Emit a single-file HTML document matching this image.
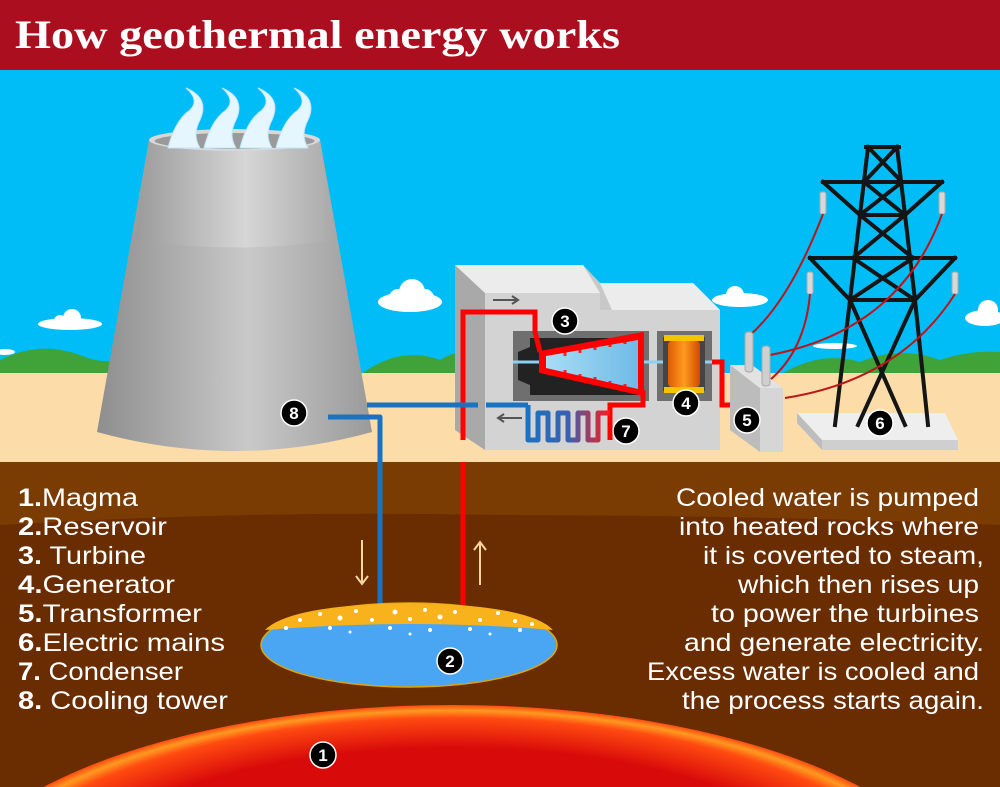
<!DOCTYPE html>
<html><head><meta charset="utf-8"><style>
html,body{margin:0;padding:0;background:#fff;overflow:hidden;width:1000px;height:787px}
svg{display:block}
</style></head><body>
<svg width="1000" height="787" viewBox="0 0 1000 787" xmlns="http://www.w3.org/2000/svg" style="font-family:'Liberation Sans',sans-serif">
<defs>
<linearGradient id="tw" x1="0" x2="1"><stop offset="0" stop-color="#8e8e8e"/><stop offset="0.55" stop-color="#c9c9c9"/><stop offset="1" stop-color="#9a9a9a"/></linearGradient>
<linearGradient id="tw2" x1="0" x2="1"><stop offset="0" stop-color="#9a9a9a"/><stop offset="0.55" stop-color="#d6d6d6"/><stop offset="1" stop-color="#a8a8a8"/></linearGradient>
<radialGradient id="mag" cx="0.5" cy="0.5" r="0.5"><stop offset="0.8" stop-color="#d80a0a"/><stop offset="0.94" stop-color="#ff4a10"/><stop offset="0.975" stop-color="#ff9a20"/><stop offset="1" stop-color="#ff4a10"/></radialGradient>
<linearGradient id="coil" x1="0" x2="1"><stop offset="0" stop-color="#1a73c2"/><stop offset="0.5" stop-color="#3d5fb0"/><stop offset="1" stop-color="#ff1a1a"/></linearGradient>
<linearGradient id="gen" x1="0" x2="1"><stop offset="0" stop-color="#e05a00"/><stop offset="0.5" stop-color="#ff9a20"/><stop offset="1" stop-color="#d04a00"/></linearGradient>
<linearGradient id="cone" x1="0" x2="1"><stop offset="0" stop-color="#a8dcf5"/><stop offset="1" stop-color="#6fbbe6"/></linearGradient>
</defs>
<rect x="0" y="70" width="1000" height="310" fill="#00bdf7"/>
<g fill="#fff">
<ellipse cx="70" cy="324" rx="32" ry="6"/><circle cx="72" cy="318" r="9"/><circle cx="60" cy="321" r="6"/>
<ellipse cx="410" cy="302" rx="32" ry="10"/><circle cx="412" cy="292" r="13"/><circle cx="398" cy="298" r="9"/><circle cx="425" cy="298" r="9"/>
<ellipse cx="740" cy="300" rx="28" ry="7"/><circle cx="735" cy="295" r="9"/>
<ellipse cx="985" cy="318" rx="20" ry="8"/><circle cx="988" cy="310" r="10"/>
<ellipse cx="835" cy="346" rx="22" ry="3"/>
<ellipse cx="5" cy="352" rx="10" ry="3"/>
</g>
<path d="M0,375 L0,360 Q40,340 80,355 Q110,368 140,355 L140,375 Z M360,375 Q400,345 440,360 Q470,340 500,375 Z M780,375 Q820,350 860,362 Q900,345 940,360 Q970,350 1000,352 L1000,375 Z" fill="#3fa33a"/>
<rect x="0" y="373" width="1000" height="90" fill="#fcdca8"/>
<rect x="0" y="462" width="1000" height="325" fill="#7b3c03"/>
<path d="M0,525 Q250,510 500,515 Q750,515 1000,525 L1000,787 L0,787 Z" fill="#6a2d02"/>
<ellipse cx="452" cy="920" rx="520" ry="215" fill="url(#mag)"/>
<rect x="0" y="0" width="1000" height="70" fill="#ab0f1f"/>
<text x="15" y="48" style="font-family:'Liberation Serif',serif" font-weight="bold" font-size="40" fill="#fff" textLength="605" lengthAdjust="spacingAndGlyphs">How geothermal energy works</text>

<path d="M149,140 L320,140 L372,432 Q235,470 97,432 Z" fill="url(#tw)"/>
<path d="M149,140 L320,140 L336,240 Q235,255 135,240 Z" fill="url(#tw2)"/>
<ellipse cx="234.5" cy="140" rx="85.5" ry="11" fill="#d8d8d8"/>
<ellipse cx="234.5" cy="141" rx="80" ry="8" fill="#9a9a9a"/>
<g fill="#e6f6ff" stroke="#bfe6fb" stroke-width="1">
<path d="M168,148 Q175,120 190,110 Q200,100 186,88 Q210,98 200,120 Q192,135 200,148 Z"/>
<path d="M204,148 Q211,120 226,110 Q236,100 222,88 Q246,98 236,120 Q228,135 236,148 Z"/>
<path d="M240,148 Q247,120 262,110 Q272,100 258,88 Q282,98 272,120 Q264,135 272,148 Z"/>
<path d="M276,148 Q283,120 298,110 Q308,100 294,88 Q318,98 308,120 Q300,135 308,148 Z"/>
</g>

<path d="M797,413 L945,413 L958,440 L822,440 Z" fill="#eeeeee"/>
<path d="M797,413 L822,440 L822,450 L797,423 Z" fill="#bdbdbd"/>
<rect x="822" y="440" width="136" height="10" fill="#cfcfcf"/>
<g stroke="#151515" stroke-width="4" fill="none" stroke-linecap="square">
<line x1="866" y1="147" x2="899" y2="147"/>
<path d="M868,147 L860,215 L850,300 L835,425"/>
<path d="M897,147 L905,215 L915,300 L928,425"/>
<path d="M868,147 L902,182 M897,147 L864,182"/>
<line x1="823" y1="182" x2="942" y2="182"/>
<path d="M823,182 L860,215 M942,182 L905,215 M864,182 L905,215 M902,182 L860,215"/>
<line x1="860" y1="215" x2="905" y2="215"/>
<path d="M860,215 L913,258 M905,215 L853,258"/>
<line x1="810" y1="258" x2="955" y2="258"/>
<path d="M810,258 L850,300 M955,258 L915,300 M853,258 L915,300 M913,258 L850,300"/>
<line x1="850" y1="300" x2="915" y2="300"/>
<path d="M850,300 L905,425 M915,300 L858,425"/>
</g>
<g fill="#d8d8d8" stroke="#aaa" stroke-width="1">
<rect x="820" y="192" width="6" height="22" rx="2"/><rect x="939" y="192" width="6" height="22" rx="2"/>
<rect x="807" y="272" width="6" height="22" rx="2"/><rect x="952" y="272" width="6" height="22" rx="2"/>
</g>
<g stroke="#c0141a" stroke-width="2" fill="none">
<path d="M823,214 Q790,300 750,335"/>
<path d="M942,214 Q900,330 770,355"/>
<path d="M810,294 Q805,350 770,380"/>
<path d="M955,294 Q900,380 785,398"/>
</g>

<path d="M455,265 L583,265 L600,283 L693,283 L720,310 L720,450 L485,450 L455,430 Z" fill="#c8c8c8"/>
<path d="M455,265 L485,293 L485,450 L455,430 Z" fill="#a9a9a9"/>
<path d="M455,265 L583,265 L600,293 L485,293 Z" fill="#ececec"/>
<path d="M600,283 L693,283 L720,310 L612,310 Z" fill="#ececec"/>
<rect x="485" y="293" width="115" height="157" fill="#d3d3d3"/>
<rect x="600" y="310" width="120" height="140" fill="#d3d3d3"/>
<rect x="513" y="331" width="136" height="70" fill="#6f6f6f"/>
<path d="M530,338 L640,338 L640,395 L530,395 L530,385 L518,380 L518,352 L530,347 Z" fill="#222"/>
<rect x="657" y="331" width="55" height="70" fill="#6f6f6f"/>
<line x1="513" y1="362" x2="720" y2="362" stroke="#8fd0f0" stroke-width="3"/>
<path d="M540,352 L643,333 L643,395 L540,372 Z" fill="#f00" stroke="#f00" stroke-width="2" stroke-linejoin="round"/>
<path d="M546,356 L638,340 L638,389 L546,368 Z" fill="url(#cone)"/>
<g stroke="#f00" stroke-width="3" opacity="0.8">
<line x1="565" y1="350" x2="565" y2="356"/><line x1="580" y1="347" x2="580" y2="353"/><line x1="595" y1="344" x2="595" y2="350"/><line x1="610" y1="341" x2="610" y2="347"/><line x1="625" y1="338" x2="625" y2="344"/>
<line x1="565" y1="370" x2="565" y2="376"/><line x1="580" y1="374" x2="580" y2="380"/><line x1="595" y1="377" x2="595" y2="384"/><line x1="610" y1="381" x2="610" y2="387"/><line x1="625" y1="384" x2="625" y2="390"/>
</g>
<rect x="663" y="337" width="42" height="54" fill="#444"/>
<rect x="664" y="335" width="40" height="6" fill="#f5c400"/>
<rect x="664" y="387" width="40" height="6" fill="#f5c400"/>
<rect x="668" y="341" width="32" height="46" rx="4" fill="url(#gen)"/>
<path d="M463,440 L463,312 L535,312 L535,332 L540,352" stroke="#f00" stroke-width="5" fill="none"/>
<line x1="463" y1="462" x2="463" y2="628" stroke="#f00" stroke-width="5"/>
<path d="M643,390 L643,405 L610,405 L610,440" stroke="#f00" stroke-width="5" fill="none"/>
<path d="M528,405 L528,440 L538,440 L538,413 L548,413 L548,440 L558,440 L558,413 L568,413 L568,440 L578,440 L578,413 L588,413 L588,440 L598,440 L598,413 L610,413" stroke="url(#coil)" stroke-width="5" fill="none" stroke-linejoin="round"/>
<path d="M367,405 L478,405 M486,405 L528,405" stroke="#1a73c2" stroke-width="5" fill="none"/>
<path d="M328,417 L380,417 L380,628" stroke="#1a73c2" stroke-width="5" fill="none" stroke-linejoin="round"/>
<path d="M712,362 L722,362 L722,405 L742,405" stroke="#f00" stroke-width="5" fill="none"/>
<g stroke="#555" stroke-width="2" fill="none"><path d="M493,300 L518,300 M512,296 L518,300 L512,304"/><path d="M498,418 L522,418 M504,414 L498,418 L504,422"/></g>
<path d="M730,365 L760,388 L760,452 L730,430 Z" fill="#bcbcbc"/>
<path d="M730,365 L752,365 L783,388 L760,388 Z" fill="#e2e2e2"/>
<rect x="760" y="388" width="23" height="64" fill="#d6d6d6"/>
<g fill="#cfcfcf" stroke="#aaa"><rect x="745" y="332" width="8" height="40" rx="3"/><rect x="762" y="346" width="8" height="40" rx="3"/></g>

<ellipse cx="409" cy="645" rx="148" ry="42" fill="#4aa6f2" stroke="#e0a400" stroke-width="1.5"/>
<path d="M265,630 Q290,605 409,603 Q530,605 553,630 Q409,618 265,630 Z" fill="#f7b21c"/>
<g fill="#fff">
<circle cx="300" cy="620" r="2"/><circle cx="320" cy="614" r="2"/><circle cx="340" cy="618" r="2.5"/><circle cx="356" cy="611" r="2"/><circle cx="372" cy="620" r="2"/><circle cx="395" cy="612" r="2.5"/><circle cx="410" cy="619" r="2"/><circle cx="425" cy="610" r="2"/><circle cx="440" cy="617" r="2.5"/><circle cx="455" cy="612" r="2"/><circle cx="480" cy="620" r="2"/><circle cx="498" cy="613" r="2"/><circle cx="515" cy="621" r="2"/><circle cx="532" cy="624" r="2"/><circle cx="286" cy="628" r="2"/><circle cx="330" cy="628" r="2"/><circle cx="390" cy="628" r="2"/><circle cx="430" cy="630" r="2"/><circle cx="470" cy="629" r="2"/><circle cx="520" cy="630" r="2"/><circle cx="350" cy="632" r="1.5"/><circle cx="410" cy="634" r="1.5"/><circle cx="490" cy="634" r="1.5"/>
</g>
<g stroke="#f8d6a0" stroke-width="2" fill="none"><path d="M362,540 L362,584 M356,576 L362,584 L368,576"/><path d="M480,585 L480,542 M474,550 L480,542 L486,550"/></g>

<g font-weight="bold" font-size="17" fill="#fff" text-anchor="middle">
<circle cx="565" cy="321" r="13" fill="#000" stroke="#fff" stroke-width="1.5"/><text x="565" y="327">3</text>
<circle cx="686" cy="403" r="13" fill="#000" stroke="#fff" stroke-width="1.5"/><text x="686" y="409">4</text>
<circle cx="747" cy="420" r="13" fill="#000" stroke="#fff" stroke-width="1.5"/><text x="747" y="426">5</text>
<circle cx="880" cy="423" r="13" fill="#000" stroke="#fff" stroke-width="1.5"/><text x="880" y="429">6</text>
<circle cx="626" cy="431" r="13" fill="#000" stroke="#fff" stroke-width="1.5"/><text x="626" y="437">7</text>
<circle cx="294" cy="413" r="13" fill="#000" stroke="#fff" stroke-width="1.5"/><text x="294" y="419">8</text>
<circle cx="450" cy="661" r="13" fill="#000" stroke="#fff" stroke-width="1.5"/><text x="450" y="667">2</text>
<circle cx="323" cy="755" r="13" fill="#000" stroke="#fff" stroke-width="1.5"/><text x="323" y="761">1</text>
</g>

<g font-size="25" fill="#fff" lengthAdjust="spacingAndGlyphs">
<text x="18" y="506" textLength="120" lengthAdjust="spacingAndGlyphs"><tspan font-weight="bold">1.</tspan>Magma</text>
<text x="18" y="535" textLength="149" lengthAdjust="spacingAndGlyphs"><tspan font-weight="bold">2.</tspan>Reservoir</text>
<text x="18" y="564" textLength="128" lengthAdjust="spacingAndGlyphs"><tspan font-weight="bold">3.</tspan> Turbine</text>
<text x="18" y="593" textLength="157" lengthAdjust="spacingAndGlyphs"><tspan font-weight="bold">4.</tspan>Generator</text>
<text x="18" y="622" textLength="184" lengthAdjust="spacingAndGlyphs"><tspan font-weight="bold">5.</tspan>Transformer</text>
<text x="18" y="651" textLength="207" lengthAdjust="spacingAndGlyphs"><tspan font-weight="bold">6.</tspan>Electric mains</text>
<text x="18" y="680" textLength="165" lengthAdjust="spacingAndGlyphs"><tspan font-weight="bold">7.</tspan> Condenser</text>
<text x="18" y="709" textLength="210" lengthAdjust="spacingAndGlyphs"><tspan font-weight="bold">8.</tspan> Cooling tower</text>
</g>
<g font-size="25" fill="#fff">
<text x="676" y="506" textLength="303" lengthAdjust="spacingAndGlyphs">Cooled water is pumped</text>
<text x="679" y="535" textLength="300" lengthAdjust="spacingAndGlyphs">into heated rocks where</text>
<text x="703" y="564" textLength="281" lengthAdjust="spacingAndGlyphs">it is coverted to steam,</text>
<text x="738" y="593" textLength="241" lengthAdjust="spacingAndGlyphs">which then rises up</text>
<text x="711" y="622" textLength="268" lengthAdjust="spacingAndGlyphs">to power the turbines</text>
<text x="684" y="651" textLength="300" lengthAdjust="spacingAndGlyphs">and generate electricity.</text>
<text x="647" y="680" textLength="332" lengthAdjust="spacingAndGlyphs">Excess water is cooled and</text>
<text x="682" y="709" textLength="302" lengthAdjust="spacingAndGlyphs">the process starts again.</text>
</g>
</svg>
</body></html>
